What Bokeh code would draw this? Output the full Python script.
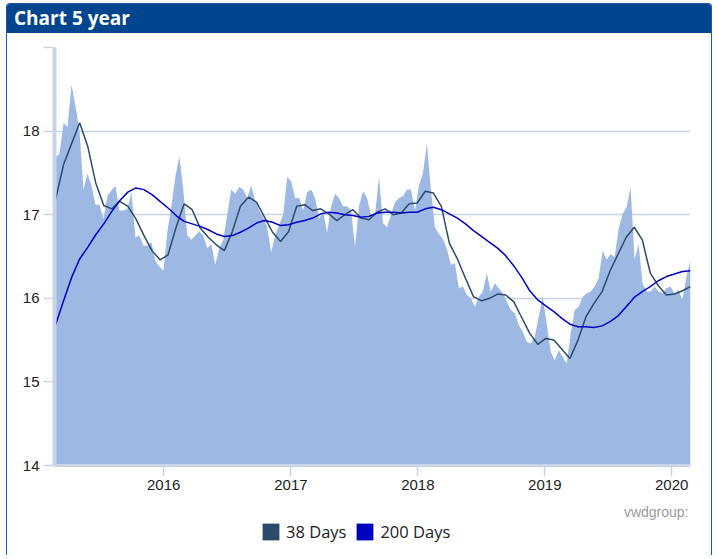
import pandas as pd
from bokeh.plotting import figure
from bokeh.models import (Range1d, FixedTicker, DatetimeTickFormatter, Legend,
                          LegendItem, Label, Div, ColumnDataSource)
from bokeh.layouts import column
from bokeh.embed import file_html
from bokeh.resources import INLINE

# ---------------- data ----------------
start_date = "2015-02-24"
end_date = "2020-02-24"
range_start = "2015-02-21"

price = [
    17.69, 17.73, 18.10, 18.05, 18.55, 18.30, 18.00, 17.30, 17.49, 17.35,
    17.12, 17.12, 16.95, 17.23, 17.29, 17.35, 17.05, 17.05, 17.07, 17.27,
    16.73, 16.75, 16.63, 16.63, 16.67, 16.45, 16.38, 16.33, 16.80, 17.10,
    17.45, 17.70, 17.30, 16.75, 16.70, 16.75, 16.80, 16.75, 16.60, 16.65,
    16.40, 16.60, 16.70, 17.00, 17.30, 17.25, 17.33, 17.30, 17.20, 17.35,
    17.17, 17.05, 16.97, 16.85, 16.55, 16.75, 16.88, 17.00, 17.45, 17.40,
    17.20, 17.20, 17.05, 17.27, 17.30, 17.20, 16.95, 17.05, 16.78, 17.10,
    17.25, 17.20, 17.10, 17.10, 17.05, 16.62, 17.10, 17.28, 17.20, 17.00,
    17.00, 17.45, 16.90, 16.85, 17.00, 17.15, 17.20, 17.22, 17.30, 17.30,
    17.05, 17.35, 17.50, 17.85, 17.30, 16.85, 16.77, 16.71, 16.59, 16.40,
    16.42, 16.12, 16.14, 16.04, 16.00, 15.90, 16.02, 16.08, 16.30, 16.08,
    16.18, 16.12, 16.06, 15.96, 15.86, 15.82, 15.68, 15.60, 15.48, 15.46,
    15.54, 15.78, 16.02, 15.70, 15.36, 15.26, 15.38, 15.30, 15.22, 15.58,
    15.86, 15.90, 16.02, 16.06, 16.08, 16.14, 16.24, 16.57, 16.46, 16.53,
    16.49, 16.83, 17.01, 17.09, 17.33, 16.46, 16.65, 16.18, 16.08, 16.08,
    16.14, 16.08, 16.06, 16.12, 16.14, 16.06, 16.10, 15.98, 16.26, 16.46,
]

ma38 = [
    17.18, 17.60, 17.85, 18.10, 17.82, 17.38, 17.11, 17.07, 17.16, 17.10,
    16.95, 16.75, 16.57, 16.46, 16.52, 16.85, 17.13, 17.06, 16.84, 16.73,
    16.64, 16.57, 16.80, 17.10, 17.21, 17.15, 16.97, 16.79, 16.68, 16.80,
    17.10, 17.12, 17.05, 17.07, 17.01, 16.93, 17.00, 17.06, 16.96, 16.94,
    17.03, 17.07, 17.00, 17.02, 17.13, 17.14, 17.28, 17.26, 17.10, 16.66,
    16.47, 16.24, 16.02, 15.97, 16.00, 16.05, 16.04, 15.96, 15.77, 15.58,
    15.45, 15.52, 15.50, 15.39, 15.28, 15.50, 15.78, 15.94, 16.08, 16.33,
    16.53, 16.73, 16.85, 16.70, 16.30, 16.15, 16.04, 16.05, 16.09, 16.14,
]

ma200 = [
    15.68, 15.97, 16.25, 16.47, 16.61, 16.76, 16.89, 17.04, 17.17, 17.27,
    17.32, 17.30, 17.24, 17.16, 17.08, 16.99, 16.92, 16.89, 16.86, 16.82,
    16.77, 16.74, 16.75, 16.79, 16.84, 16.90, 16.93, 16.91, 16.87, 16.88,
    16.91, 16.93, 16.96, 17.01, 17.03, 17.02, 17.00, 16.99, 16.97, 16.98,
    17.02, 17.03, 17.03, 17.02, 17.03, 17.03, 17.07, 17.09, 17.06, 17.01,
    16.96, 16.89, 16.81, 16.74, 16.67, 16.60, 16.51, 16.39, 16.25, 16.09,
    15.98, 15.91, 15.84, 15.76, 15.69, 15.66, 15.66, 15.65, 15.67, 15.72,
    15.79, 15.90, 16.01, 16.08, 16.14, 16.21, 16.26, 16.29, 16.32, 16.33,
]

y_ticks = [14, 15, 16, 17, 18, 19]
x_tick_dates = ["2016-01-01", "2017-01-01", "2018-01-01", "2019-01-01", "2020-01-01"]
legend_labels = ["38 Days", "200 Days"]
title_text = "Chart 5 year"
source_text = "vwdgroup:"

price_dates = pd.date_range(start_date, end_date, periods=len(price))
ma_dates = pd.date_range(start_date, end_date, periods=len(ma38))

# ---------------- styles ----------------
AREA = "#9db9e3"
C38 = "#2c4b6b"
C200 = "#0000c8"
GRID = "#c6d3e3"
AXIS = "#c9d5e6"
HEADER = "#00458e"
BORDER = "#1f56a6"

p = figure(width=704, height=468, x_axis_type="datetime",
           output_backend="svg", toolbar_location=None,
           x_range=Range1d(pd.Timestamp(range_start), pd.Timestamp(end_date)),
           y_range=Range1d(min(y_ticks), max(y_ticks)),
           min_border_left=47, min_border_right=21,
           min_border_top=14, min_border_bottom=36, margin=0)
p.outline_line_color = None
p.background_fill_color = "white"
p.border_fill_color = "white"

p.varea(x=price_dates, y1=min(y_ticks), y2=price, fill_color=AREA, fill_alpha=1.0)
p.line(ma_dates, ma38, line_color=C38, line_width=1.5)
p.line(ma_dates, ma200, line_color=C200, line_width=1.5)

# axes
yax = p.yaxis[0]
yax.ticker = FixedTicker(ticks=y_ticks)
yax.major_label_overrides = {19: ""}
yax.axis_line_color = AXIS
yax.axis_line_width = 4
yax.major_tick_line_color = AXIS
yax.major_tick_line_width = 1.5
yax.major_tick_out = 11
yax.major_tick_in = 0
yax.minor_tick_line_color = None
yax.major_label_standoff = 4
yax.major_label_text_font = "Liberation Sans"
yax.major_label_text_font_size = "15px"
yax.major_label_text_color = "#222222"

xax = p.xaxis[0]
xax.ticker = FixedTicker(ticks=[pd.Timestamp(d).value / 1e6 for d in x_tick_dates])
xax.formatter = DatetimeTickFormatter(years="%Y", months="%Y", days="%Y", hours="%Y")
xax.axis_line_color = AXIS
xax.axis_line_width = 3
xax.major_tick_line_color = AXIS
xax.major_tick_line_width = 1.5
xax.major_tick_out = 11
xax.major_tick_in = 0
xax.minor_tick_line_color = None
xax.major_label_standoff = 3
xax.major_label_text_font = "Liberation Sans"
xax.major_label_text_font_size = "15px"
xax.major_label_text_color = "#222222"

p.xgrid.visible = False
p.ygrid.ticker = FixedTicker(ticks=y_ticks)
p.ygrid.grid_line_color = GRID
p.ygrid.grid_line_width = 1.5

# ---------------- footer: source note + legend ----------------
f = figure(width=704, height=54, output_backend="svg", toolbar_location=None,
           x_range=Range1d(0, 1), y_range=Range1d(0, 1),
           x_axis_location=None, y_axis_location=None,
           min_border=0, margin=0)
f.outline_line_color = None
f.grid.visible = False
f.background_fill_color = "white"
f.border_fill_color = "white"

# source note (screen units are relative to the frame, which is aligned with the chart's)
f.add_layout(Label(x=634, y=44, x_units="screen", y_units="screen",
                   text=source_text, text_align="right", text_baseline="middle",
                   text_font="Liberation Sans", text_font_size="14px",
                   text_color="#9a9a9a"))

# legend swatches: renderers with no visible geometry, only used for the legend squares
nan = float("nan")
swatch_src = ColumnDataSource(dict(l=[nan], r=[nan], t=[nan], b=[nan]))
q1 = f.quad(left="l", right="r", top="t", bottom="b", source=swatch_src,
            fill_color=C38, line_color=None)
q2 = f.quad(left="l", right="r", top="t", bottom="b", source=swatch_src,
            fill_color="#0000bf", line_color=None)
legend = Legend(items=[LegendItem(label=legend_labels[0], renderers=[q1]),
                       LegendItem(label=legend_labels[1], renderers=[q2])],
                orientation="horizontal", location=(206, 12),
                glyph_width=21, glyph_height=21, padding=0, margin=0,
                spacing=8, label_standoff=5,
                border_line_color=None, background_fill_alpha=0,
                label_text_font="Open Sans", label_text_font_size="16.5px",
                label_text_color="#222222")
f.add_layout(legend, "center")

header = Div(text=title_text, width=704, height=29, margin=0,
             styles={"background-color": HEADER, "color": "#ffffff",
                     "font-family": "'Open Sans', sans-serif", "font-weight": "bold",
                     "font-size": "19px", "line-height": "29px",
                     "padding-left": "7px", "box-sizing": "border-box",
                     "border-radius": "3px 3px 0 0"})

layout = column(header, p, f, spacing=0,
                styles={"border": "1px solid " + BORDER, "border-bottom": "none",
                        "border-radius": "4px 4px 0 0",
                        "margin-left": "6px", "margin-top": "3px"})

open("out.html", "w").write(file_html(layout, INLINE))
